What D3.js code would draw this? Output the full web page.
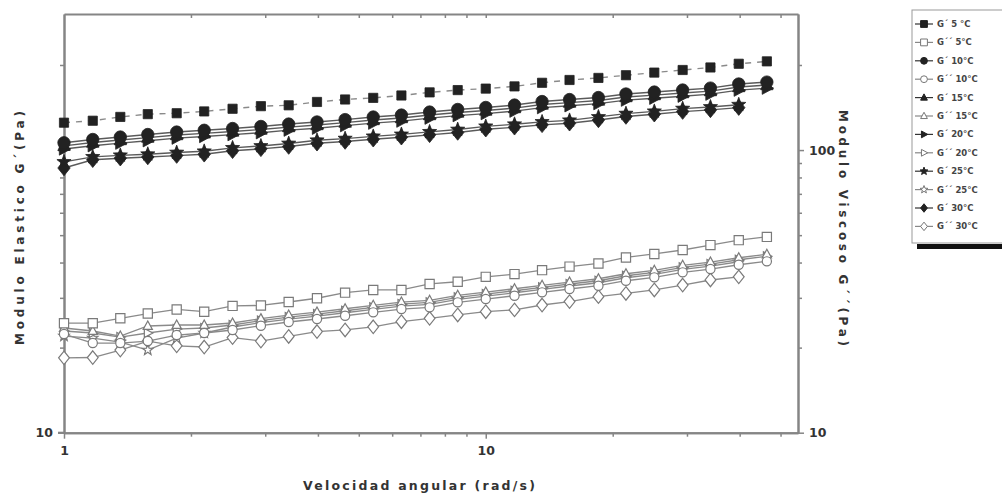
<!DOCTYPE html>
<html><head><meta charset="utf-8">
<script src="https://cdn.jsdelivr.net/npm/d3@7"></script>
<style>body{margin:0;background:#fff}svg{display:block}</style>
</head><body>
<svg id="c" width="1002" height="495"></svg>
<script>
// angular velocity (rad/s)
const omega = [1.00,1.17,1.36,1.58,1.85,2.15,2.51,2.93,3.41,3.98,4.64,5.41,6.31,7.36,8.58,10.0,11.7,13.6,15.8,18.5,21.5,25.1,29.3,34.1,39.8,46.4];
// G' (elastic) series
const gp5  = [125,127,131,134,135,137,140,143,144,148,151,153,156,160,163,165,168,173,177,180,184,188,192,196,202,206];
const gp10 = [106.1,109.0,111.2,113.5,115.8,117.5,119.2,121.2,123.6,125.7,128.2,130.9,133.0,136.3,139.2,141.5,144.3,148.5,150.9,153.4,157.9,160.4,163.1,165.7,171.3,174.0];
const gp15 = [103.5,106.3,108.5,110.7,113.0,114.6,116.3,118.2,120.6,122.6,125.1,127.7,129.8,133.0,135.8,138.0,140.8,144.9,147.2,149.7,154.0,156.5,159.1,161.7,167.1,169.8];
const gp20 = [100.9,103.6,105.8,107.9,110.2,111.7,113.4,115.2,117.6,119.5,122.0,124.5,126.6,129.7,132.4,134.6,137.3,141.3,143.5,146.0,150.2,152.6,155.1,157.7,162.9,165.6];
const gp25 = [90.8,94.6,95.8,96.7,98.0,99.0,101.8,103.4,105.5,108.3,109.8,111.8,113.6,116.0,118.2,121.3,123.4,125.8,127.4,131.0,134.6,137.1,140.2,142.1,144.7];
const gp30 = [86.4,92.4,93.6,94.5,95.6,96.6,99.4,101.0,102.9,105.7,107.2,109.2,111.0,113.2,115.4,118.5,120.4,122.8,124.4,127.8,131.4,133.9,136.8,138.7,141.3];
// G'' (viscous) series
const gpp5  = [24.4,24.4,25.4,26.4,27.3,26.8,28.1,28.2,29.0,29.9,31.3,32.0,32.0,33.6,34.2,35.6,36.4,37.6,38.7,39.7,41.7,42.9,44.3,46.1,48.0,49.3];
const gpp10 = [22.34,20.76,20.76,21.10,22.16,22.53,23.09,23.91,24.64,25.25,25.93,26.66,27.38,27.77,28.92,29.71,30.52,31.38,32.24,33.12,34.49,35.46,36.93,37.94,39.29,40.39];
const gpp15 = [23.47,22.90,21.98,23.85,24.05,24.05,24.44,25.31,26.08,26.72,27.45,28.22,28.99,29.40,30.62,31.45,32.31,33.22,34.12,35.05,36.51,37.53,39.09,40.16,41.59,42.76];
const gpp20 = [22.90,22.53,21.80,22.53,23.27,23.47,24.05,24.90,25.66,26.29,27.01,27.77,28.52,28.93,30.12,30.94,31.79,32.69,33.58,34.49,35.92,36.93,38.46,39.51,40.92,42.07];
const gpp25 = [21.98,21.62,20.93,19.61,21.62,22.53,23.66,24.50,25.24,25.87,26.57,27.32,28.06,28.46,29.64,30.44,31.27,32.16,33.04,33.93,35.34,36.33,37.84,38.87,40.26];
const gpp30 = [18.4,18.45,19.6,21.1,20.3,20.1,21.7,21.1,21.9,22.8,23.1,23.7,24.7,25.4,26.1,26.8,27.2,28.3,29.1,30.3,31.1,32.0,33.3,34.7,35.6];

const seriesLabels = ["G´ 5 °C","G´´ 5°C","G´ 10°C","G´´ 10°C","G´ 15°C","G´´ 15°C","G´ 20°C","G´´ 20°C","G´ 25°C","G´´ 25°C","G´ 30°C","G´´ 30°C"];
const seriesValues = [gp5,gpp5,gp10,gpp10,gp15,gpp15,gp20,gpp20,gp25,gpp25,gp30,gpp30];
const seriesShapes = ["square","square","circle","circle","triangle","triangle","right","right","star","star","diamond","diamond"];

const xTitle = "Velocidad angular (rad/s)";
const yLeftTitle = "Modulo Elastico G´(Pa)";
const yRightTitle = "Modulo Viscoso G´´(Pa)";

const svg = d3.select("#c");
const L = 64, R = 798, T = 14, B = 432.7;
const x = d3.scaleLog().domain([1, 55]).range([L, R]);
const y = d3.scaleLog().domain([10, 303]).range([B, T]);
const y2 = d3.scaleLog().domain([10, 303]).range([B, T]);

const axisColor = "#858585", textColor = "#333";
const font = "DejaVu Sans, sans-serif";

function styleAxis(g){
  g.selectAll("path.domain").attr("stroke", axisColor).attr("stroke-width", 2);
  g.selectAll(".tick line").attr("stroke", axisColor).attr("stroke-width", 1.5);
  g.selectAll(".tick text").attr("fill", textColor).attr("font-family", font)
    .attr("font-weight","bold").attr("font-size", 12.5);
}
const yMinor = [20,30,40,50,60,70,80,90,200];
const xMinor = [2,3,4,5,6,7,8,9,20,30,40,50];
// left
svg.append("g").attr("transform",`translate(${L},0)`)
  .call(d3.axisLeft(y).tickValues(yMinor).tickSize(4).tickSizeOuter(0).tickFormat(""))
  .call(styleAxis);
svg.append("g").attr("transform",`translate(${L},0)`)
  .call(d3.axisLeft(y).tickValues([10,100]).tickSize(6).tickSizeOuter(0).tickPadding(5).tickFormat(d => d===10 ? "10" : ""))
  .call(styleAxis);
// right
svg.append("g").attr("transform",`translate(${R},0)`)
  .call(d3.axisRight(y2).tickValues(yMinor).tickSize(4).tickSizeOuter(0).tickFormat(""))
  .call(styleAxis);
svg.append("g").attr("transform",`translate(${R},0)`)
  .call(d3.axisRight(y2).tickValues([10,100]).tickSize(6).tickSizeOuter(0).tickPadding(5).tickFormat(d3.format("d")))
  .call(styleAxis);
// bottom
svg.append("g").attr("transform",`translate(0,${B})`)
  .call(d3.axisBottom(x).tickValues(xMinor).tickSize(4).tickSizeOuter(0).tickFormat(""))
  .call(styleAxis);
svg.append("g").attr("transform",`translate(0,${B})`)
  .call(d3.axisBottom(x).tickValues([1,10]).tickSize(6).tickSizeOuter(0).tickPadding(7).tickFormat(d3.format("d")))
  .call(styleAxis);
// top (inward ticks)
svg.append("g").attr("transform",`translate(0,${T})`)
  .call(d3.axisBottom(x).tickValues(xMinor.concat([10])).tickSize(4).tickSizeOuter(0).tickFormat(""))
  .call(styleAxis);
svg.append("line").attr("x1",L-6).attr("x2",L).attr("y1",B).attr("y2",B).attr("stroke",axisColor).attr("stroke-width",2);

function shapePath(type, r){
  switch(type){
    case "square": return `M${-r},${-r}H${r}V${r}H${-r}Z`;
    case "circle": return `M${r},0A${r},${r} 0 1,1 ${-r},0A${r},${r} 0 1,1 ${r},0Z`;
    case "triangle": return `M0,${-r*1.1}L${r},${r*0.75}L${-r},${r*0.75}Z`;
    case "right": return `M${r*1.1},0L${-r*0.75},${-r}L${-r*0.75},${r}Z`;
    case "diamond": return `M0,${-r*1.25}L${r},0L0,${r*1.25}L${-r},0Z`;
    case "star": {
      let p = [];
      for(let i=0;i<10;i++){
        const a = -Math.PI/2 + i*Math.PI/5;
        const rr = i%2===0 ? r*1.2 : r*0.5;
        p.push([rr*Math.cos(a), rr*Math.sin(a)]);
      }
      return "M" + p.map(q=>q[0].toFixed(2)+","+q[1].toFixed(2)).join("L") + "Z";
    }
  }
}

const line = d3.line().x(d=>x(d[0])).y(d=>y(d[1]));
const plot = svg.append("g");
const order = [11,9,7,5,3,1,10,8,6,4,2,0];
order.forEach(i => {
  const vals = seriesValues[i];
  const pts = vals.map((v,k)=>[omega[k], v]);
  const isGp = i % 2 === 0;
  const g = plot.append("g");
  g.append("path").attr("d", line(pts)).attr("fill","none")
    .attr("stroke", isGp ? (i===0 ? "#8a8a8a" : "#5a5a5a") : "#8a8a8a")
    .attr("stroke-width", isGp ? 1.4 : 1.3)
    .attr("stroke-dasharray", i===0 ? "6,6" : null);
  const r = isGp ? (seriesShapes[i]==="square" ? 4.6 : 6.2) : (seriesShapes[i]==="diamond" ? 5.4 : 4.6);
  g.selectAll("path.m").data(pts).enter().append("path").attr("class","m")
    .attr("transform", d=>`translate(${x(d[0])},${y(d[1])})`)
    .attr("d", shapePath(seriesShapes[i], r))
    .attr("fill", isGp ? "#222" : "#fff")
    .attr("stroke", isGp ? "#222" : "#7a7a7a")
    .attr("stroke-width", isGp ? 0.8 : 1.2);
});

svg.append("text").attr("x", 419).attr("y", 490).attr("text-anchor","middle")
  .attr("font-family", font).attr("font-weight","bold").attr("font-size", 12.5).attr("fill", textColor)
  .attr("textLength", 232).attr("lengthAdjust","spacing").text(xTitle);
svg.append("text").attr("transform","translate(24,228) rotate(-90)").attr("text-anchor","middle")
  .attr("font-family", font).attr("font-weight","bold").attr("font-size", 12).attr("fill", textColor)
  .attr("textLength", 234).attr("lengthAdjust","spacing").text(yLeftTitle);
svg.append("text").attr("transform","translate(839,228) rotate(90)").attr("text-anchor","middle")
  .attr("font-family", font).attr("font-weight","bold").attr("font-size", 12).attr("fill", textColor)
  .attr("textLength", 236).attr("lengthAdjust","spacing").text(yRightTitle);

const lg = svg.append("g");
lg.append("rect").attr("x", 917).attr("y", 244).attr("width", 90).attr("height", 5).attr("fill", "#111");
lg.append("rect").attr("x", 912).attr("y", 10).attr("width", 100).attr("height", 233)
  .attr("fill", "#fff").attr("stroke", "#999").attr("stroke-width", 1);
seriesLabels.forEach((lab, i) => {
  const yy = 24 + i*18.4;
  const isGp = i % 2 === 0;
  lg.append("line").attr("x1", 915).attr("x2", 933).attr("y1", yy).attr("y2", yy)
    .attr("stroke", isGp ? "#333" : "#888").attr("stroke-width", 1.2);
  lg.append("path").attr("transform", `translate(924,${yy})`)
    .attr("d", shapePath(seriesShapes[i], 3.4))
    .attr("fill", isGp ? "#222" : "#fff").attr("stroke", isGp ? "#222" : "#777").attr("stroke-width", 1);
  lg.append("text").attr("x", 937).attr("y", yy + 3).attr("font-family", font).attr("font-weight","bold")
    .attr("font-size", 8.5).attr("fill", "#444").text(lab);
});
</script>
</body></html>
